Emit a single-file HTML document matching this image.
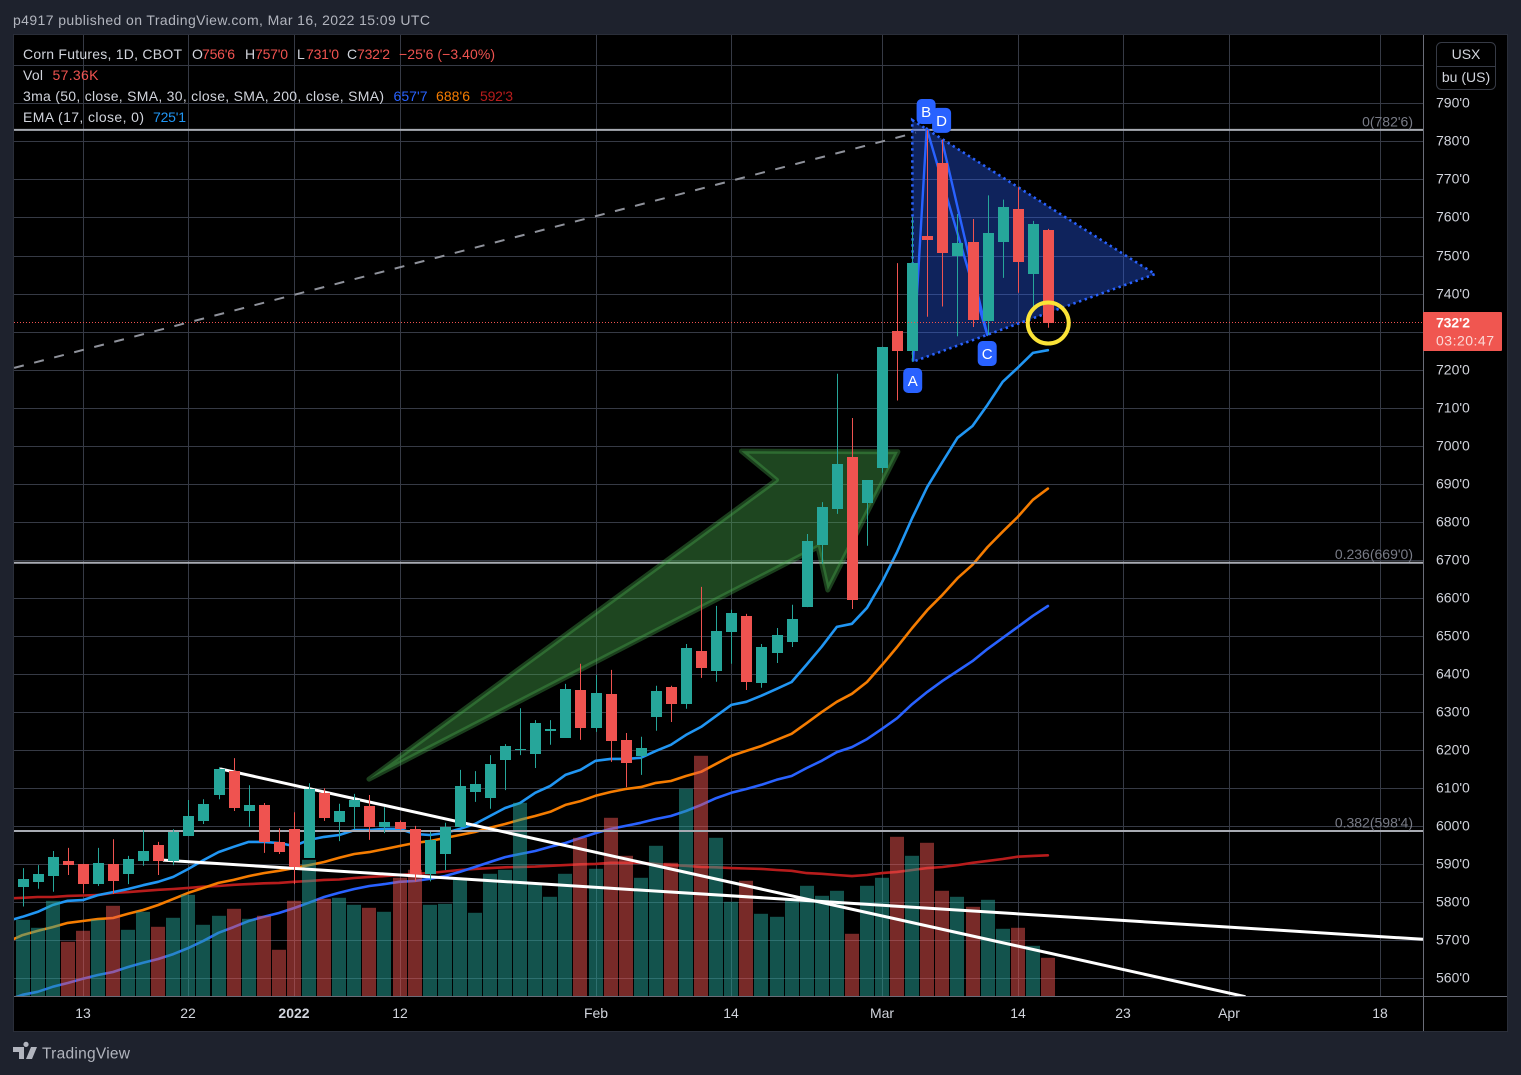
<!DOCTYPE html>
<html lang="en">
<head>
<meta charset="utf-8">
<title>Corn Futures, 1D, CBOT</title>
<style>
html,body{margin:0;padding:0;background:#1e222d;width:1521px;height:1075px;overflow:hidden}
svg{display:block}
text{font-family:"Liberation Sans",sans-serif;font-size:14px}
</style>
</head>
<body>
<svg id="chart" xmlns="http://www.w3.org/2000/svg" width="1521" height="1075" viewBox="0 0 1521 1075">
  <defs>
    <clipPath id="pane"><rect x="14" y="35" width="1409" height="961.5"/></clipPath>
  </defs>
  <text x="13" y="25" fill="#b2b5be" textLength="417">p4917 published on TradingView.com, Mar 16, 2022 15:09 UTC</text>
  <rect x="13.5" y="34.5" width="1494" height="997" fill="#000" stroke="#2a2e39"/>
  <g id="grid"></g>
  <g clip-path="url(#pane)">
    <g id="mas"></g>
    <g id="vols"></g>
    <g id="drawings"></g>
    <g id="candles"></g>
    <g id="overlay"></g>
  </g>
  <line x1="14" y1="996.5" x2="1507" y2="996.5" stroke="#6a6d78"/>
  <line x1="1423.5" y1="35" x2="1423.5" y2="1031" stroke="#6a6d78"/>
  <g id="priceLabels" fill="#d1d4dc"></g>
  <g id="timeLabels" fill="#d1d4dc"></g>

  <g>
    <text x="23" y="59" fill="#d1d4dc" textLength="159">Corn Futures, 1D, CBOT</text>
    <text x="192" y="59" fill="#d1d4dc">O</text>
    <text x="202" y="59" fill="#ef5350" textLength="33">756'6</text>
    <text x="245" y="59" fill="#d1d4dc">H</text>
    <text x="255" y="59" fill="#ef5350" textLength="33">757'0</text>
    <text x="297" y="59" fill="#d1d4dc">L</text>
    <text x="306" y="59" fill="#ef5350" textLength="33">731'0</text>
    <text x="347" y="59" fill="#d1d4dc">C</text>
    <text x="357" y="59" fill="#ef5350" textLength="33">732'2</text>
    <text x="399" y="59" fill="#ef5350" textLength="96">−25'6 (−3.40%)</text>
    <text x="23" y="80" fill="#d1d4dc" textLength="20">Vol</text>
    <text x="52.5" y="80" fill="#ef5350" textLength="46">57.36K</text>
    <text x="23" y="101" fill="#d1d4dc" textLength="361">3ma (50, close, SMA, 30, close, SMA, 200, close, SMA)</text>
    <text x="393.5" y="101" fill="#2962ff" textLength="34">657'7</text>
    <text x="436" y="101" fill="#f57c00" textLength="34">688'6</text>
    <text x="480" y="101" fill="#b71c1c" textLength="33">592'3</text>
    <text x="23" y="122" fill="#d1d4dc" textLength="121">EMA (17, close, 0)</text>
    <text x="153" y="122" fill="#2196f3" textLength="33">725'1</text>
  </g>

  <g>
    <rect x="1436.5" y="42.5" width="59" height="47" rx="5" fill="#000" stroke="#363a45"/>
    <line x1="1436.5" y1="66.5" x2="1495.5" y2="66.5" stroke="#363a45"/>
    <text x="1466" y="59" fill="#d1d4dc" text-anchor="middle">USX</text>
    <text x="1466" y="82" fill="#d1d4dc" text-anchor="middle">bu (US)</text>
  </g>

  <g>
    <rect x="1423" y="312" width="79" height="39" rx="1" fill="#f05650"/>
    <text x="1436" y="327.5" fill="#fff" font-weight="bold" textLength="34">732'2</text>
    <text x="1436" y="345.5" fill="#fbd9d6" textLength="58">03:20:47</text>
  </g>

  <g>
    <path fill="#b2b5be" d="M13 1047h11v12h-5v-7h-6z M26 1047a2.6 2.6 0 1 1 0.01 0z M31 1047h6l-5 12h-6z"/>
    <text x="42" y="1058.5" fill="#b2b5be" style="font-size:15.5px" textLength="88">TradingView</text>
  </g>
</svg>

<script>
// Series data: first entry is a partly hidden bar left of the pane.
const opens = [584,584.1,585.4,587,590.9,590.1,584.8,590.1,587.5,590.9,595.1,590.9,597.4,601.4,608.2,614.5,604,605.6,595.9,599.3,591.7,608.7,601.1,605,605.3,599.8,601.1,599.3,587.5,592.7,599.8,609,607.4,617.4,620.1,619,625.1,623.2,635.8,625.9,634.8,622.7,618.5,628.7,636.6,632.2,646.1,640.8,651.1,655.3,637.6,645.6,648.4,657.6,673.9,683.4,697.1,685,694.2,730.1,724.9,755.1,774.3,749.9,753.6,732.8,753.6,762.2,745.2,756.75];
const highs = [586,589,589.8,593.5,594.3,590.1,594.3,596.6,592.2,599,595.9,599.2,606.9,607.1,615.5,617.9,610.8,606.1,599.5,603.7,611.3,610,605.9,608.5,608.2,605,601.5,600.1,598.5,600.9,614.8,614.5,618.7,621.6,631,627.9,627.9,637.4,642.7,639.8,641.1,624.5,623.5,636.9,636.9,647.9,662.9,657.9,656.9,655.8,647.9,652.1,658.2,676.8,685.2,718.9,707.3,691,726,748,760.2,783,780.4,760.9,759.6,765.8,764.7,767.9,759.1,757];
const lows = [580,578.9,583.6,582.8,587.2,582.4,584.3,582.2,584.8,589.6,587.2,589.8,597.4,600.6,607.1,604,599.8,593,592.7,584.8,591.7,601.4,596.1,599.3,596.4,598.2,599,585.5,585.5,588.5,599.8,606.4,604.6,609.5,618.7,615.3,621.4,623.2,622.7,624.8,616.9,610.3,613.5,625.1,627.4,630.9,639,638,642.7,635.8,636.4,642.9,647.1,657.6,669,682.1,657.1,673.7,692.9,711.9,722.1,733.9,736.6,728.8,731.2,729.1,744.1,740.2,736.5,731];
const closes = [583,586.1,587.5,591.9,589.8,584.8,590.3,585.6,591.4,593.5,590.9,598.5,602.7,605.8,615,604.8,605.6,595.9,593.2,589.3,609.8,602.2,604,606.9,599.8,601.1,599.3,587.5,596.4,599.8,610.6,611.1,616.4,621.1,620.4,627.2,625.6,636.1,625.9,635,622.4,616.6,620.6,635.6,632.2,646.9,641.6,651.3,656.1,637.9,647.1,650.3,654.5,675,683.9,695.2,659.5,691,726,724.9,748,754.2,750.7,753.3,733.1,755.9,762.8,748.3,758.3,732.25];
const volumes = [101.8,113.7,101.8,141.8,81.1,97.4,113.7,134.4,98.8,125.5,103.3,116.6,150.7,106.3,119.6,130,115.2,119.6,69.2,141.8,202.6,144.8,146.3,135.9,131.5,125.5,175.9,187.8,135.9,137.4,175.9,124,181.8,187.8,287.1,168.5,147.8,181.8,235.2,189.3,264.8,208.5,175.9,223.3,198.1,307.8,356.7,235.2,140.3,171.5,122.6,118.1,143.3,164.1,149.2,156.6,92.9,164.1,175.9,236.7,208.5,227.8,156.6,147.8,132.9,143.3,100.3,101.8,75.1,57.36];
const ema17 = [575.1,576.2,577.5,579.3,580.4,580.6,581.9,582.7,583.5,584.5,585.4,586.7,588.8,591.1,593.2,594.6,595.9,595.9,595.6,594.8,596.4,597.2,597.7,599,599,599.3,599.3,598,597.7,598.2,599.3,600.6,602.7,604.8,606.1,608.8,610.6,613.5,614.8,617.2,617.7,617.7,618,619.8,621.4,624,626.1,629,631.9,632.7,634.3,636.1,637.9,642.5,647.2,652.4,653.2,657.4,664.2,672.1,681,689.2,695.7,702.1,705.2,710.8,716.8,720.5,724.4,725.1];
const sma30 = [569.6,571.4,572.5,573.5,574.6,575.1,575.6,575.9,577,578,579.3,580.9,582.5,583.8,585.1,585.9,586.9,587.7,588.3,589,589.8,590.6,591.7,592.7,593.2,594,594.8,595.6,596.1,596.9,597.7,598.5,599.6,600.6,601.7,602.7,603.8,605.6,606.6,608,609,609.8,610.3,611.4,611.9,613.2,614.3,616.4,618.5,619.8,621.1,622.7,624.3,627.1,630,632.7,634.8,637.9,642.4,647.1,652.1,656.8,660.8,665.2,668.7,673.4,677.4,681.3,685.8,688.75];
const sma50 = [554.3,555.7,556.5,557.8,558.8,559.9,560.9,561.7,563,564.1,565.1,566.4,568,569.9,572,573.5,575.1,576.2,577.2,578.5,579.9,581.4,582.5,583.5,584.3,584.8,585.4,585.6,586.2,586.9,588,589.3,590.6,591.9,592.7,593.5,594.6,595.6,596.9,598.2,599.3,600.1,600.9,601.9,602.7,604,605.6,607.4,608.8,609.8,610.9,612.2,613.2,615.3,617.2,619.5,620.8,622.9,625.6,628.4,632.1,635.3,638.2,640.8,643.4,646.6,649.5,652.4,655.3,657.875];
const sma200 = [581,581.2,581.4,581.4,581.7,581.8,581.9,582.5,582.7,583,583.3,583.5,583.8,584.1,584.3,584.6,584.8,585,585.1,585.4,585.6,585.9,586,586.4,586.7,586.9,587.2,587.5,587.7,588.1,588.5,588.8,589,589.2,589.3,589.4,589.6,589.8,590,590.1,590.4,590.4,590.4,590.1,589.8,589.6,589.3,589.2,589,588.9,588.8,588.5,588.3,587.7,587.5,587.2,586.9,587.2,587.7,588,588.5,589,589.3,589.8,590.4,590.9,591.4,592,592.2,592.375];

// Axis ticks
const priceTicks = [800,790,780,770,760,750,740,730,720,710,700,690,680,670,660,650,640,630,620,610,600,590,580,570,560];
const hiddenPriceLabels = [800,730];
const timeTickBars = [4,11,18,25,38,47,57,66,73,80,90];
const timeTickLabels = ['13','22','2022','12','Feb','14','Mar','14','23','Apr','18'];
const boldTimeLabels = ['2022'];

// Drawings anchored as [bar number, price]
const fibPrices = [782.75,669,598.5];
const fibNames = ["0(782'6)","0.236(669'0)","0.382(598'4)"];
const lastPrice = 732.25;
const dashedTrend = [[-0.56,720.45],[59.25,782.3]];
const whiteTrendA = [[13.1,615.1],[81.1,555.2]];
const whiteTrendB = [[9.32,591.1],[92.87,570.3]];
const trianglePoints = [[59,785.6],[75.1,745.1],[59.05,722.1]];
const abcdPoints = [[59.05,722.1],[59.96,783.4],[63.98,729.1],[60.97,780.35]];
const arrowPoints = [[22.98,612.4],[50,691],[47.67,698.6],[58.05,698.4],[53.4,662.1],[52.75,673.4]];
const circlePoint = [68,732.25];

// Axis functions
const xBar = b => 22.5 + 15.08 * b;
const yPrice = p => 103.3 + (790 - p) * 3.805;
const yVol = v => 996.5 - v * 0.6747;
const xIdx = i => xBar(i - 1);

const NS = 'http://www.w3.org/2000/svg';
function mk(tag, parent, attrs) {
  const el = document.createElementNS(NS, tag);
  for (const k in attrs) el.setAttribute(k, attrs[k]);
  parent.appendChild(el);
  return el;
}
const $ = id => document.getElementById(id);
const pts = arr => arr.map(a => xBar(a[0]).toFixed(1) + ',' + yPrice(a[1]).toFixed(1)).join(' ');
const fmtPrice = p => Math.floor(p) + "'" + Math.round((p - Math.floor(p)) * 8);

// Grid
priceTicks.forEach(p => {
  const y = Math.round(yPrice(p)) + 0.5;
  const l = mk('line', $('grid'), {x1: 14, x2: 1423, y1: y, y2: y, stroke: '#363a45'});
  
  
  if (!hiddenPriceLabels.includes(p)) {
    const t = mk('text', $('priceLabels'), {x: 1436, y: y + 4});
    t.textContent = fmtPrice(p);
    
    
  }
});
timeTickBars.forEach((b, i) => {
  const x = Math.round(xBar(b)) + 0.5;
  const l = mk('line', $('grid'), {x1: x, x2: x, y1: 35, y2: 996, stroke: '#363a45'});
  
  
  const t = mk('text', $('timeLabels'), {x: x - 0.5, y: 1018, 'text-anchor': 'middle'});
  t.textContent = timeTickLabels[i];
  if (boldTimeLabels.includes(timeTickLabels[i])) t.setAttribute('font-weight', 'bold');
  
  
});

// Moving averages
function maLine(values, color, name) {
  const d = values.map((v, i) => xIdx(i).toFixed(1) + ',' + yPrice(v).toFixed(1)).join(' ');
  const l = mk('polyline', $('mas'), {points: d, fill: 'none', stroke: color, 'stroke-width': 2.6, 'stroke-linejoin': 'round', 'stroke-linecap': 'round'});
  
  
}
maLine(sma200, '#b71c1c', 'sma-200-line');
maLine(sma50, '#2962ff', 'sma-50-line');
maLine(sma30, '#f57c00', 'sma-30-line');
maLine(ema17, '#2196f3', 'ema-17-line');

// Volume
volumes.forEach((v, i) => {
  const up = closes[i] >= opens[i];
  const cx = Math.round(xIdx(i));
  const top = yVol(v);
  const r = mk('rect', $('vols'), {x: cx - 7, y: top.toFixed(1), width: 14, height: (996.5 - top).toFixed(1), fill: up ? 'rgba(38,166,154,.5)' : 'rgba(239,83,80,.5)'});
  
  
});

// Drawings
fibPrices.forEach((p, i) => {
  const y = yPrice(p) - 1;
  const l = mk('line', $('drawings'), {x1: 14, x2: 1423, y1: y, y2: y, stroke: '#a8abb3', 'stroke-width': 2});
  
  
  const t = mk('text', $('drawings'), {x: 1413, y: y - 3.5, 'text-anchor': 'end', fill: '#787b86'});
  t.textContent = fibNames[i];
  
  
});
const dashLine = mk('polyline', $('drawings'), {points: pts(dashedTrend), fill: 'none', stroke: '#8f929b', 'stroke-width': 2, 'stroke-dasharray': '10 10.7'});


const arrow = mk('polygon', $('drawings'), {points: pts(arrowPoints), fill: 'rgba(76,175,80,.4)', stroke: 'rgba(76,175,80,.36)', 'stroke-width': 5, 'stroke-linejoin': 'round'});


const tri = mk('polygon', $('drawings'), {points: pts(trianglePoints), fill: 'rgba(41,98,255,.36)', stroke: '#2962ff', 'stroke-width': 2.6, 'stroke-dasharray': '2.4 3.6'});


const abcd = mk('polyline', $('drawings'), {points: pts(abcdPoints), fill: 'none', stroke: '#2962ff', 'stroke-width': 2.4, 'stroke-linejoin': 'round'});


const trendA = mk('polyline', $('drawings'), {points: pts(whiteTrendA), fill: 'none', stroke: '#fff', 'stroke-width': 3});


const trendB = mk('polyline', $('drawings'), {points: pts(whiteTrendB), fill: 'none', stroke: '#fff', 'stroke-width': 3});



// Candles
opens.forEach((o, i) => {
  const c = closes[i], up = c >= o, col = up ? '#26a69a' : '#ef5350';
  const cx = Math.round(xIdx(i)) + 0.5;
  const top = Math.round(yPrice(Math.max(o, c)));
  const bot = Math.round(yPrice(Math.min(o, c)));
  const w = mk('line', $('candles'), {x1: cx, x2: cx, y1: yPrice(highs[i]).toFixed(1), y2: yPrice(lows[i]).toFixed(1), stroke: col});
  
  
  const b = mk('rect', $('candles'), {x: cx - 5.5, y: top, width: 11, height: Math.max(1, bot - top), fill: col});
  
  
});

// Annotations on top of candles
const priceLine = mk('line', $('overlay'), {x1: 14, x2: 1423, y1: Math.floor(yPrice(lastPrice)) - 0.5, y2: Math.floor(yPrice(lastPrice)) - 0.5, stroke: '#ef5350', 'stroke-dasharray': '1 2'});


const ring = mk('circle', $('overlay'), {cx: xBar(circlePoint[0]) + 0.3, cy: yPrice(circlePoint[1]), r: 20.5, fill: 'none', stroke: '#fbe337', 'stroke-width': 4});



const abcdLetters = ['A','B','C','D'];
const abcdLabelBars = [59.03,59.92,63.97,60.95];
const abcdLabelPrices = [717.15,787.85,724.25,785.5];
abcdLetters.forEach((letter, i) => {
  const x = xBar(abcdLabelBars[i]), y = yPrice(abcdLabelPrices[i]);
  const r = mk('rect', $('overlay'), {x: (x - 9.5).toFixed(1), y: (y - 12.5).toFixed(1), width: 19, height: 25, rx: 5, fill: '#2962ff'});
  
  
  const t = mk('text', $('overlay'), {x: x.toFixed(1), y: (y + 5.5).toFixed(1), 'text-anchor': 'middle', fill: '#fff', style: 'font-size:15px'});
  t.textContent = letter;
  
  
});
</script>
</body>
</html>
